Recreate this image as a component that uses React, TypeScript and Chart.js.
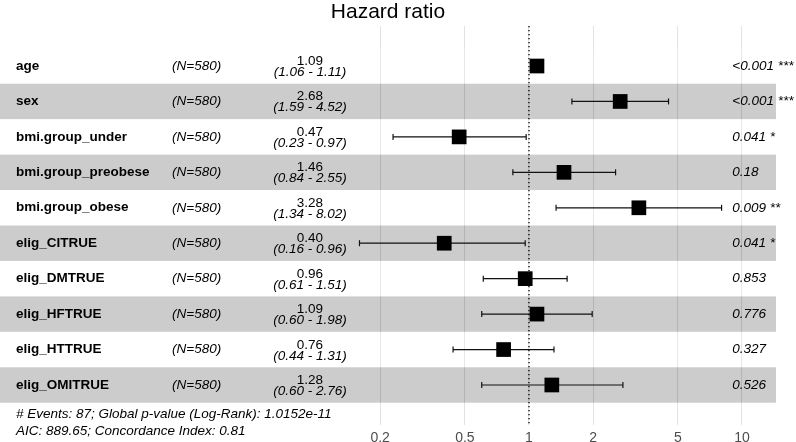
import React, { useEffect, useRef } from "react";
import { Chart, registerables } from "chart.js";

Chart.register(...registerables);

// ---------- data ----------
const variables = [
  "age",
  "sex",
  "bmi.group_under",
  "bmi.group_preobese",
  "bmi.group_obese",
  "elig_CITRUE",
  "elig_DMTRUE",
  "elig_HFTRUE",
  "elig_HTTRUE",
  "elig_OMITRUE",
];
const nLabels = [
  "(N=580)", "(N=580)", "(N=580)", "(N=580)", "(N=580)",
  "(N=580)", "(N=580)", "(N=580)", "(N=580)", "(N=580)",
];
const hazardRatios = [1.09, 2.68, 0.47, 1.46, 3.28, 0.4, 0.96, 1.09, 0.76, 1.28];
const ciLow = [1.06, 1.59, 0.23, 0.84, 1.34, 0.16, 0.61, 0.6, 0.44, 0.6];
const ciHigh = [1.11, 4.52, 0.97, 2.55, 8.02, 0.96, 1.51, 1.98, 1.31, 2.76];
const pValues = ["<0.001", "<0.001", "0.041", "0.18", "0.009", "0.041", "0.853", "0.776", "0.327", "0.526"];
const stars = ["***", "***", "*", "", "**", "*", "", "", "", ""];
const tickValues = [0.2, 0.5, 1, 2, 5, 10];
const footnoteLines = [
  "# Events: 87; Global p-value (Log-Rank): 1.0152e-11",
  "AIC: 889.65; Concordance Index: 0.81",
];
const titleText = "Hazard ratio";

// ---------- scale settings ----------
const X_MIN = 0.003284;
const X_MAX = 17.93;
const BAND_MIN = X_MIN;
const BAND_MAX = 14.44;
const Y_MIN = -1.129;
const Y_MAX = 10.129;
// column anchors expressed on the hazard-ratio (log) axis
const COL_VAR = 0.0039;
const COL_N = 0.0211;
const COL_EST = 0.0937;
const COL_P = 9.0;

const FAMILY = '"Liberation Sans", Arial, Helvetica, sans-serif';
Chart.defaults.font.family = FAMILY;

const forestPlugin = {
  id: "forestDecor",
  beforeDatasetsDraw(chart: any) {
    const { ctx, scales } = chart;
    const x = scales.x;
    const y = scales.y;
    const left = x.getPixelForValue(BAND_MIN);
    const right = x.getPixelForValue(BAND_MAX);
    ctx.save();
    variables.forEach((_, i) => {
      const top = y.getPixelForValue(i - 0.5);
      const bottom = y.getPixelForValue(i + 0.5);
      ctx.fillStyle = i % 2 === 1 ? "rgba(0,0,0,0.2)" : "rgba(255,255,255,0.2)";
      ctx.fillRect(left, top, right - left, bottom - top);
    });
    ctx.restore();
  },
  afterDatasetsDraw(chart: any) {
    const { ctx, scales, chartArea } = chart;
    const x = scales.x;
    const y = scales.y;
    ctx.save();
    ctx.fillStyle = "#000";

    // title, centred over the panel
    ctx.font = `21px ${FAMILY}`;
    ctx.textAlign = "center";
    ctx.textBaseline = "middle";
    const mid = (x.getPixelForValue(BAND_MIN) + x.getPixelForValue(BAND_MAX)) / 2;
    ctx.fillText(titleText, mid, chartArea.top / 2 - 1);

    variables.forEach((name, i) => {
      const py = y.getPixelForValue(i);
      ctx.font = `bold 13.5px ${FAMILY}`;
      ctx.textAlign = "left";
      ctx.textBaseline = "middle";
      ctx.fillText(name, x.getPixelForValue(COL_VAR), py);

      ctx.font = `italic 13.5px ${FAMILY}`;
      ctx.fillText(nLabels[i], x.getPixelForValue(COL_N), py);

      ctx.textAlign = "center";
      ctx.textBaseline = "alphabetic";
      ctx.font = `13.5px ${FAMILY}`;
      ctx.fillText(hazardRatios[i].toFixed(2), x.getPixelForValue(COL_EST), py - 1);
      ctx.font = `italic 13.5px ${FAMILY}`;
      ctx.fillText(
        `(${ciLow[i].toFixed(2)} - ${ciHigh[i].toFixed(2)})`,
        x.getPixelForValue(COL_EST),
        py + 10
      );

      ctx.textAlign = "left";
      ctx.textBaseline = "middle";
      const p = stars[i] ? `${pValues[i]} ${stars[i]}` : pValues[i];
      ctx.fillText(p, x.getPixelForValue(COL_P), py);
    });
    const fy = y.getPixelForValue(variables.length - 0.5);
    ctx.font = `italic 13.5px ${FAMILY}`;
    ctx.textAlign = "left";
    ctx.textBaseline = "alphabetic";
    footnoteLines.forEach((line, k) => {
      ctx.fillText(line, x.getPixelForValue(COL_VAR), fy + 15 + k * 17.5);
    });
    ctx.restore();
  },
};

export default function App() {
  const canvasRef = useRef<HTMLCanvasElement | null>(null);

  useEffect(() => {
    if (!canvasRef.current) return;

    const ciSegments: any[] = [];
    variables.forEach((_, i) => {
      ciSegments.push({ x: ciLow[i], y: i });
      ciSegments.push({ x: ciHigh[i], y: i });
      ciSegments.push({ x: null, y: null });
    });
    const capPoints = variables.flatMap((_, i) => [
      { x: ciLow[i], y: i },
      { x: ciHigh[i], y: i },
    ]);
    const estPoints = variables.map((_, i) => ({ x: hazardRatios[i], y: i }));

    const chart = new Chart(canvasRef.current, {
      type: "scatter",
      data: {
        datasets: [
          {
            type: "line",
            label: "reference",
            data: [
              { x: 1, y: Y_MIN },
              { x: 1, y: Y_MAX },
            ],
            borderColor: "#000",
            borderWidth: 1.3,
            borderDash: [1.3, 2.7],
            pointRadius: 0,
            order: 0,
          } as any,
          {
            type: "scatter",
            label: "HR",
            data: estPoints,
            pointStyle: "rect",
            pointRadius: 10.4,
            backgroundColor: "#000",
            borderColor: "#000",
            borderWidth: 0,
            order: 1,
          } as any,
          {
            type: "scatter",
            label: "caps",
            data: capPoints,
            pointStyle: "line",
            rotation: 90,
            pointRadius: 3,
            borderColor: "#111",
            borderWidth: 1.2,
            order: 2,
          } as any,
          {
            type: "line",
            label: "CI",
            data: ciSegments,
            borderColor: "#111",
            borderWidth: 1.2,
            pointRadius: 0,
            spanGaps: false,
            order: 3,
          } as any,
        ],
      },
      options: {
        animation: false,
        responsive: false,
        maintainAspectRatio: false,
        layout: { padding: { top: 26, left: 0, right: 0, bottom: 0 }, autoPadding: false },
        plugins: {
          legend: { display: false },
          tooltip: { enabled: false },
          title: { display: false },
        },
        scales: {
          x: {
            type: "logarithmic",
            min: X_MIN,
            max: X_MAX,
            afterBuildTicks: (axis: any) => {
              axis.ticks = tickValues.map((v) => ({ value: v }));
            },
            afterFit: (axis: any) => {
              axis.height = 17;
            },
            ticks: {
              autoSkip: false,
              maxRotation: 0,
              color: "#4d4d4d",
              padding: 5,
              font: { size: 14, family: FAMILY },
              callback: (v: any) => String(v),
            },
            grid: {
              color: "#e2e2e2",
              lineWidth: 1,
              drawTicks: false,
              tickLength: 0,
            },
            border: { display: false },
          },
          y: {
            type: "linear",
            reverse: true,
            min: Y_MIN,
            max: Y_MAX,
            display: false,
          },
        },
      } as any,
      plugins: [forestPlugin],
    });

    return () => chart.destroy();
  }, []);

  return (
    <div style={{ position: "absolute", left: 0, top: 0, width: 796, height: 442, background: "#fff" }}>
      <canvas ref={canvasRef} width={796} height={442} style={{ display: "block" }} />
    </div>
  );
}
